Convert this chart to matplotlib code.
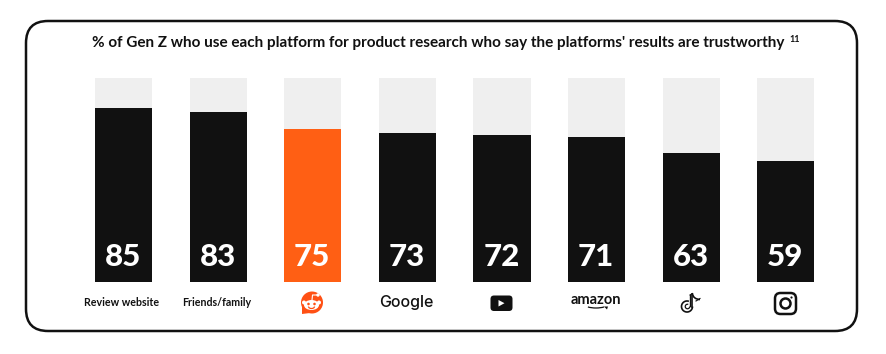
import matplotlib
matplotlib.use("Agg")
import matplotlib.pyplot as plt
from matplotlib.patches import FancyBboxPatch, Circle, Ellipse, Polygon, Arc

plt.rcParams['font.family'] = ['Lato', 'DejaVu Sans']

values = [85, 83, 75, 73, 72, 71, 63, 59]
bar_colors = ['#111111', '#111111', '#ff5f14', '#111111', '#111111', '#111111', '#111111', '#111111']
text_labels = ['Review website', 'Friends/family']
title = "% of Gen Z who use each platform for product research who say the platforms' results are trustworthy"
total = 100
black = '#111111'

fig = plt.figure(figsize=(8.86, 3.54), dpi=100, facecolor='white')

# overlay in pixel coords for the frame and logos
bg = fig.add_axes([0, 0, 1, 1])
bg.set_xlim(0, 886)
bg.set_ylim(354, 0)
bg.axis('off')

bg.add_patch(FancyBboxPatch((26, 21), 831, 310, boxstyle="round,pad=0,rounding_size=22",
                            fc='white', ec=black, lw=1.8))

bg.text(92, 43.5, title, fontsize=10.95, fontweight='bold', color=black, va='center', ha='left')
bg.text(789, 39.5, '11', fontsize=6.5, fontweight='bold', color=black, va='center', ha='left')

# bars
ax = fig.add_axes([76.2 / 886, (354 - 282) / 354, 757 / 886, 204.5 / 354])
ax.set_xlim(-0.5, 7.5)
ax.set_ylim(0, total)
ax.axis('off')
ax.patch.set_alpha(0)
xs = range(len(values))
ax.bar(xs, [total] * len(values), width=0.603, color='#efefef')
ax.bar(xs, values, width=0.603, color=bar_colors)
for i, v in enumerate(values):
    ax.text(i - 0.005, 12.3, str(v), color='white', fontsize=22.5, fontweight='black', ha='center', va='center')

# category labels
bg.text(122, 303, text_labels[0], fontsize=7.7, fontweight='bold', color=black, ha='center', va='center')
bg.text(217, 303, text_labels[1], fontsize=7.7, fontweight='bold', color=black, ha='center', va='center')

# reddit
orange = '#ff5014'
bg.add_patch(Circle((312, 302.5), 11, fc=orange, ec='none'))
bg.add_patch(Polygon([(302, 306), (302, 314), (310, 313)], fc=orange, ec='none'))
bg.add_patch(Ellipse((311.5, 305), 15, 10, fc='white', ec='none'))
bg.add_patch(Circle((304, 302.5), 2, fc='white', ec='none'))
bg.add_patch(Circle((319, 302.5), 2, fc='white', ec='none'))
bg.add_patch(Circle((308.5, 304), 1.3, fc=orange, ec='none'))
bg.add_patch(Circle((314.5, 304), 1.3, fc=orange, ec='none'))
bg.add_patch(Circle((318, 295), 1.7, fc='white', ec='none'))
bg.plot([312, 312.5, 317], [300, 295, 295], color='white', lw=0.8)
bg.add_patch(Arc((311.5, 306.5), 6, 4, theta1=0, theta2=180, color=orange, lw=0.9))

# google, amazon
bg.text(406.5, 302, 'Google', fontsize=11.5, fontweight='medium', color=black, ha='center', va='center',
        family=['Inter', 'DejaVu Sans'])
bg.text(596, 299.5, 'amazon', fontsize=10.5, fontweight='bold', color=black, ha='center', va='center')
bg.add_patch(Arc((596, 304), 24, 8, theta1=20, theta2=160, color=black, lw=0.9))
bg.add_patch(Polygon([(604, 306.5), (608, 306.5), (607, 309.5)], fc=black, ec='none'))

# youtube
bg.add_patch(FancyBboxPatch((490.5, 295.5), 22, 15.5, boxstyle="round,pad=0,rounding_size=3.5",
                            fc=black, ec='none'))
bg.add_patch(Polygon([(498.5, 300), (498.5, 306.5), (504.5, 303.2)], fc='white', ec='none'))

# tiktok
bg.add_patch(Arc((687, 306.5), 11, 11, theta1=0, theta2=290, color=black, lw=1.2))
bg.add_patch(Arc((687.5, 306.5), 4.5, 4.5, theta1=0, theta2=290, color=black, lw=0.9))
bg.plot([692.5, 692.5], [306.5, 293.5], color=black, lw=1.2)
bg.plot([690, 690], [306, 295], color=black, lw=1.0)
bg.plot([690, 692.5], [295, 293.5], color=black, lw=0.8)
bg.add_patch(Arc((700, 293.5), 15, 12, theta1=90, theta2=180, color=black, lw=1.2))
bg.plot([696, 700], [301, 298.5], color=black, lw=0.8)

# instagram
bg.add_patch(FancyBboxPatch((775, 293), 21, 21, boxstyle="round,pad=0,rounding_size=5.5",
                            fc='white', ec=black, lw=1.8))
bg.add_patch(Circle((785.5, 303.5), 5, fc='white', ec=black, lw=1.8))
bg.add_patch(Circle((791.5, 297.5), 1.1, fc=black, ec='none'))

fig.savefig('out.png', dpi=100)
